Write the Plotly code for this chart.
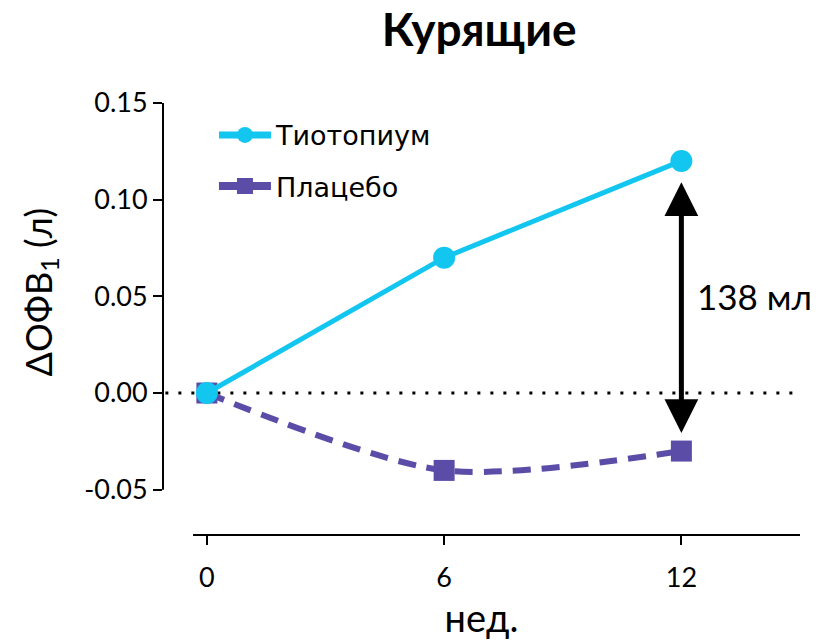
import plotly.graph_objects as go

weeks = [0, 6, 12]
tiotropium = [0.0, 0.07, 0.12]
placebo = [0.0, -0.04, -0.03]
y_ticks = [-0.05, 0.0, 0.05, 0.10, 0.15]
y_tick_labels = ["-0.05", "0.00", "0.05", "0.10", "0.15"]
x_ticks = [0, 6, 12]
difference_label = "138 мл"

CYAN = "#12C6F0"
PURPLE = "#5B4CA8"
FONT = "Lato, 'Open Sans', sans-serif"
LEGEND_FONT = "'DejaVu Sans', sans-serif"

fig = go.Figure()

# data traces (placebo underneath so the cyan circle sits on top at week 0)
fig.add_trace(go.Scatter(
    x=weeks, y=placebo, mode="lines+markers", showlegend=False,
    line=dict(color=PURPLE, width=6, dash="18px,11px", shape="spline", smoothing=0.8),
    marker=dict(symbol="square", size=21, color=PURPLE),
))
fig.add_trace(go.Scatter(
    x=weeks, y=tiotropium, mode="lines+markers", showlegend=False,
    line=dict(color=CYAN, width=5),
    marker=dict(symbol="circle", size=22, color=CYAN),
))

# legend entries with solid line keys
fig.add_trace(go.Scatter(
    x=[None], y=[None], mode="lines+markers", name="Тиотопиум", legendgroup="a",
    line=dict(color=CYAN, width=7), marker=dict(symbol="circle", size=22, color=CYAN),
))
fig.add_trace(go.Scatter(
    x=[None], y=[None], mode="lines+markers", name="Плацебо", legendgroup="b",
    line=dict(color=PURPLE, width=8), marker=dict(symbol="square", size=21, color=PURPLE),
))

# zero reference line (dotted)
fig.add_shape(type="line", xref="x", yref="y", x0=-1.05, x1=15.0, y0=0, y1=0,
              line=dict(color="black", width=3, dash="3px,10px"), layer="below")
# axis lines
fig.add_shape(type="line", xref="paper", yref="y", x0=0, x1=0, y0=-0.05, y1=0.15,
              line=dict(color="black", width=2))
fig.add_shape(type="line", xref="x", yref="paper", x0=-0.35, x1=15.0, y0=0, y1=0,
              line=dict(color="black", width=2))

# difference arrow at week 12
fig.add_annotation(
    x=weeks[2], y=tiotropium[2] - 0.011, ax=weeks[2], ay=placebo[2] + 0.0085,
    xref="x", yref="y", axref="x", ayref="y", text="", showarrow=True,
    arrowhead=2, startarrowhead=2, arrowside="end+start", arrowsize=1.35,
    startarrowsize=1.35, arrowwidth=5, arrowcolor="black",
)
fig.add_annotation(
    x=12.35, y=(tiotropium[2] + placebo[2]) / 2 + 0.0053, xref="x", yref="y",
    text=difference_label, showarrow=False, xanchor="left",
    font=dict(family=FONT, size=35, color="black"),
)

# y-axis title
fig.add_annotation(
    x=0, xref="paper", xshift=-123, y=0.052, yref="y", textangle=-90,
    text="ΔОФВ<sub>1</sub> (л)", showarrow=False, xanchor="center", yanchor="middle",
    font=dict(family=FONT, size=36, color="black"),
)

fig.update_layout(
    width=819, height=641,
    margin=dict(l=163, r=19, t=100, b=106),
    paper_bgcolor="white", plot_bgcolor="white",
    title=dict(text="<b>Курящие</b>", x=0.585, xanchor="center", y=0.953, yanchor="middle",
               font=dict(family=FONT, size=46, color="black")),
    font=dict(family=FONT, color="black"),
    xaxis=dict(range=[-1.11, 15.0], tickvals=x_ticks, ticks="outside", ticklen=9,
               tickwidth=2, tickcolor="black", showgrid=False, zeroline=False, showline=False,
               tickfont=dict(size=27), ticklabelstandoff=10, automargin=False,
               title=dict(text="нед.", font=dict(size=38), standoff=12)),
    yaxis=dict(range=[-0.0734, 0.1515], tickvals=y_ticks, ticktext=y_tick_labels,
               ticks="outside", ticklen=9, tickwidth=2, tickcolor="black", showgrid=False,
               zeroline=False, showline=False, tickfont=dict(size=27), automargin=False),
    legend=dict(x=0.08, y=0.975, xanchor="left", yanchor="top", traceorder="grouped",
                tracegroupgap=13, font=dict(family=LEGEND_FONT, size=27), itemwidth=52,
                bgcolor="rgba(0,0,0,0)"),
)

fig.write_html("out.html")
